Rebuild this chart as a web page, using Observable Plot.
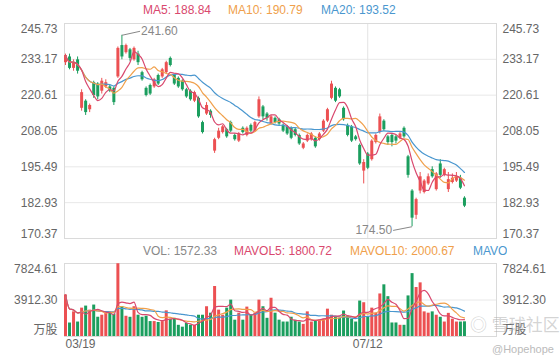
<!DOCTYPE html>
<html><head><meta charset="utf-8">
<script src="https://cdn.jsdelivr.net/npm/d3@7"></script>
<script src="https://cdn.jsdelivr.net/npm/@observablehq/plot@0.6"></script>
<style>
body{margin:0;background:#fff;}
#chart{position:relative;width:560px;height:360px;overflow:hidden;font-family:"Liberation Sans",Arial,"Noto Sans CJK SC",sans-serif;}
#chart svg{position:absolute;left:0;}
.lg{position:absolute;font-size:12px;line-height:14px;white-space:nowrap;z-index:5;}
</style></head><body><div id="chart"></div>
<script>
const tickIndex = [0, 75];
const tickLabels = ["03/19", "07/12"];
const priceTicks = [170.37, 182.93, 195.49, 208.05, 220.61, 233.17, 245.73];
const volTicks = [0, 3912.30, 7824.61];
const legendValues = {ma5: "188.84", ma10: "190.79", ma20: "193.52", vol: "1572.33", mavol5: "1800.72", mavol10: "2000.67"};

const open = [
232,234,230,233,216,218.5,215.5,225,224.5,222,
223.5,223.5,223,227,238,235.5,236.5,233,235,228.5,
223,224,223.5,227.5,227,228.5,233.5,227.5,226.5,225.5,
222.5,222,218.5,219.5,211,214,215,201,205.5,207.5,
208.5,211,206.5,204.5,209,206.5,210,208,213,216.5,
214,210.5,212.5,212,210,209.5,209,208.5,206.5,202,
204.5,205,205.5,205,208,211.5,219.5,223,222.5,216,
210,209.5,206,203,194,200,198,204,207.5,211.5,
206,206.5,206,205.5,209,199,187,178.5,187,186.5,
189.5,194.5,187.5,196.5,192.5,187.5,190,190.5,191.5,184.5];
const close = [
234.5,230,232,229,221.5,214.5,217,220.5,220,225.5,
225,222,218,237,234,238,233.5,237,232,226,
220.5,221,226,224.5,229.5,232,231,224.5,223.5,222.5,
220,219,221.5,213,207.5,217,213.5,205,208,209.5,
206,208,205,207,207.5,209,208,211,219,213,
212.5,213,211,210.5,208,207,205.5,206.5,203.5,203.5,
206.5,207,202.5,207,211.5,215.5,224.5,218.5,220,212,
206.5,204.5,205,196.5,197,195,204.5,206.5,213,208.5,
204,204,204.5,207,206,192.5,177.5,184,192,190.5,
192,192,193,192.5,194.5,191,191.5,192,188,181.7];
const high = [
235,235,233,234,222.5,219,217.5,225.5,225,226.5,
226,224,223.5,237.5,241.6,238.5,237,237.5,236,229,
223.5,224.5,226.5,228,230,232.5,234,228,227,226,
223,222.5,222,220,211.5,218,215.5,205.5,209,210,
209,211.5,207,207.5,209.5,209.5,210.5,211.5,220,217,
214.5,213.5,213,212.5,210.5,210,209.5,209,207,204,
207,207.5,206,207.5,212,216,225.5,223.5,223,216.5,
210.5,210,206.5,203.5,198,200.5,205,207,214,212,
206.5,207,206.5,207.5,209.5,199.5,187.5,184.5,193.5,191,
193,195.5,193.5,198,195,193.5,193,193.5,192.5,185];
const low = [
231,229.5,229,228,215,213.5,214.5,219.5,219,221,
223,221.5,217,226.5,233,235,232.5,232.5,231,225.5,
220,220.5,223,224,226.5,228,230.5,224,223,222,
219.5,218.5,218,212.5,207,213.5,212.5,200.2,205,207,
205.5,207.5,204.5,204,207,206,207.5,207.5,212.5,212,
211.5,210,210.5,210,207.5,206.5,205,206,203,201.5,
204,204.5,202,204.5,207.5,211,219,218,219.5,211.5,
206,204,204.5,196,189.5,194.5,197.5,203.5,207,208,
203,202.5,203.5,205,205.5,191.5,174.5,177,186,186,
189,191.5,187,191.5,192,186.5,189.5,190,187.5,181.2];
const volume = [
4456,1445,2640,1550,3040,3260,2825,3370,2065,2280,
2500,2500,2390,7800,3190,2170,2060,3190,2280,2060,
2170,1600,1600,1500,1600,2750,1850,1950,1200,1000,
1400,1200,1200,2280,2280,3190,2500,5360,2825,2280,
3040,3900,1750,2500,1750,3150,2280,2500,3900,3190,
1950,4100,2500,1750,1550,1550,2065,1750,1550,1300,
2640,1550,1650,1750,1850,2930,2280,2060,1950,2730,
2170,1850,1550,3800,3620,2060,3040,2500,4560,5540,
4270,1450,1450,1200,1200,4350,6740,5250,5750,2640,
2500,2640,2280,2060,1550,2480,1850,1550,1550,1572.33];

const RED = "#ec5052", GREEN = "#1b9e5e";
const MA5C = "#d9486e", MA10C = "#f0a04b", MA20C = "#4a97cf";
const FONT = '"Liberation Sans", Arial, "Noto Sans CJK SC", sans-serif';

function ma(arr, n) {
  return arr.map((_, i) => d3.mean(arr.slice(Math.max(0, i - n + 1), i + 1)));
}
const ma5 = ma(close, 5), ma10 = ma(close, 10), ma20 = ma(close, 20);
const mv5 = ma(volume, 5), mv10 = ma(volume, 10), mv20 = ma(volume, 20);
const candles = close.map((c, i) => ({
  i, open: open[i], close: c, high: high[i], low: low[i], vol: volume[i],
  ma5: ma5[i], ma10: ma10[i], ma20: ma20[i], mv5: mv5[i], mv10: mv10[i], mv20: mv20[i]
}));
const ups = candles.filter(d => d.close >= d.open);
const downs = candles.filter(d => d.close < d.open);
const ticksData = tickIndex.map((i, k) => ({i, label: tickLabels[k]}));

const xDomain = [-0.248, 106.95];
const hi = candles[d3.maxIndex(high)];
const lo = candles[d3.minIndex(low)];

function yLabels(ticks, fmt, dy) {
  return [
    Plot.text(ticks, {y: d => d, text: fmt, frameAnchor: "left", textAnchor: "end", dx: -7, dy, fill: "#666", fontSize: 12, fontFamily: FONT}),
    Plot.text(ticks, {y: d => d, text: fmt, frameAnchor: "right", textAnchor: "start", dx: 6, dy, fill: "#666", fontSize: 12, fontFamily: FONT})
  ];
}
const fmt2 = d => d.toFixed(2);

const pricePlot = Plot.plot({
  width: 560, height: 245, marginLeft: 64, marginRight: 64, marginTop: 23, marginBottom: 7,
  x: {type: "linear", domain: xDomain, axis: null},
  y: {domain: [170.37, 245.73], axis: null},
  style: {fontFamily: FONT, fontSize: "12px", background: "transparent", overflow: "visible"},
  marks: [
    Plot.ruleY(priceTicks, {stroke: "#e8e8e8"}),
    Plot.ruleX(tickIndex.slice(1), {stroke: "#e3e3e3"}),
    Plot.frame({stroke: "#dadada"}),
    Plot.ruleX(ups, {x: "i", y1: "low", y2: "high", stroke: RED}),
    Plot.ruleX(downs, {x: "i", y1: "low", y2: "high", stroke: GREEN}),
    Plot.ruleX(ups, {x: "i", y1: "open", y2: "close", stroke: RED, strokeWidth: 3}),
    Plot.ruleX(downs, {x: "i", y1: "open", y2: "close", stroke: GREEN, strokeWidth: 3}),
    Plot.lineY(candles, {x: "i", y: "ma20", stroke: MA20C, strokeWidth: 1.2, curve: "monotone-x"}),
    Plot.lineY(candles, {x: "i", y: "ma10", stroke: MA10C, strokeWidth: 1.2, curve: "monotone-x"}),
    Plot.lineY(candles, {x: "i", y: "ma5", stroke: MA5C, strokeWidth: 1.2, curve: "monotone-x"}),
    Plot.link([hi], {x1: "i", y1: "high", x2: d => d.i + 4.5, y2: d => d.high + 1.4, stroke: "#888", strokeWidth: 1}),
    Plot.text([hi], {x: d => d.i + 4.5, y: d => d.high + 1.4, text: d => d.high.toFixed(2), textAnchor: "start", dx: 1, fill: "#888", fontSize: 12, fontFamily: FONT}),
    Plot.link([lo], {x1: "i", y1: "low", x2: d => d.i - 4.7, y2: d => d.low - 1.3, stroke: "#888", strokeWidth: 1}),
    Plot.text([lo], {x: d => d.i - 4.7, y: d => d.low - 1.3, text: d => d.low.toFixed(2), textAnchor: "end", dx: -1, fill: "#888", fontSize: 12, fontFamily: FONT}),
    ...yLabels(priceTicks.slice(-1), fmt2, 6),
    ...yLabels(priceTicks.slice(1, -1), fmt2, 0),
    ...yLabels(priceTicks.slice(0, 1), fmt2, -4)
  ]
});

const volPlot = Plot.plot({
  width: 560, height: 115, marginLeft: 64, marginRight: 64, marginTop: 18, marginBottom: 24,
  x: {type: "linear", domain: xDomain, axis: null},
  y: {domain: [0, 7824.61], axis: null},
  style: {fontFamily: FONT, fontSize: "12px", background: "transparent", overflow: "visible"},
  marks: [
    Plot.ruleY(volTicks, {stroke: "#e8e8e8"}),
    Plot.ruleX(tickIndex.slice(1), {stroke: "#e3e3e3"}),
    Plot.frame({stroke: "#dadada"}),
    Plot.ruleX(ups, {x: "i", y1: 0, y2: "vol", stroke: RED, strokeWidth: 3}),
    Plot.ruleX(downs, {x: "i", y1: 0, y2: "vol", stroke: GREEN, strokeWidth: 3}),
    Plot.lineY(candles, {x: "i", y: "mv20", stroke: MA20C, strokeWidth: 1.2, curve: "monotone-x"}),
    Plot.lineY(candles, {x: "i", y: "mv10", stroke: MA10C, strokeWidth: 1.2, curve: "monotone-x"}),
    Plot.lineY(candles, {x: "i", y: "mv5", stroke: MA5C, strokeWidth: 1.2, curve: "monotone-x"}),
    ...yLabels(volTicks.slice(-1), fmt2, 6),
    ...yLabels(volTicks.slice(1, -1), fmt2, 0),
    ...yLabels(volTicks.slice(0, 1), () => "万股", -6),
    Plot.text(ticksData.slice(0, 1), {x: "i", text: "label", frameAnchor: "bottom", textAnchor: "start", dy: 11, fill: "#666", fontSize: 12, fontFamily: FONT}),
    Plot.text(ticksData.slice(1), {x: "i", text: "label", frameAnchor: "bottom", textAnchor: "middle", dy: 11, fill: "#666", fontSize: 12, fontFamily: FONT})
  ]
});

const root = document.getElementById("chart");
pricePlot.style.top = "0px";
volPlot.style.top = "245px";
root.appendChild(pricePlot);
root.appendChild(volPlot);

function lg(text, left, top, color, extra) {
  const d = document.createElement("div");
  d.className = "lg";
  d.textContent = text;
  d.style.left = left + "px";
  d.style.top = top + "px";
  d.style.color = color;
  if (extra) Object.assign(d.style, extra);
  root.appendChild(d);
  return d;
}
lg("MA5: " + legendValues.ma5, 143, 3, MA5C);
lg("MA10: " + legendValues.ma10, 228, 3, MA10C);
lg("MA20: " + legendValues.ma20, 321, 3, MA20C);
lg("VOL: " + legendValues.vol, 143, 244, "#888");
lg("MAVOL5: " + legendValues.mavol5, 234, 244, MA5C);
lg("MAVOL10: " + legendValues.mavol10, 350, 244, MA10C);
lg("MAVOL20: " + mv20[mv20.length - 1].toFixed(2), 473, 244, MA20C, {width: "34px", overflow: "hidden"});
lg("◎ 雪球社区", 470, 316, "rgba(170,170,170,0.5)", {fontSize: "17px", lineHeight: "20px"});
lg("@Hopehope", 492, 342, "#bbb", {fontSize: "11px"});
</script></body></html>
